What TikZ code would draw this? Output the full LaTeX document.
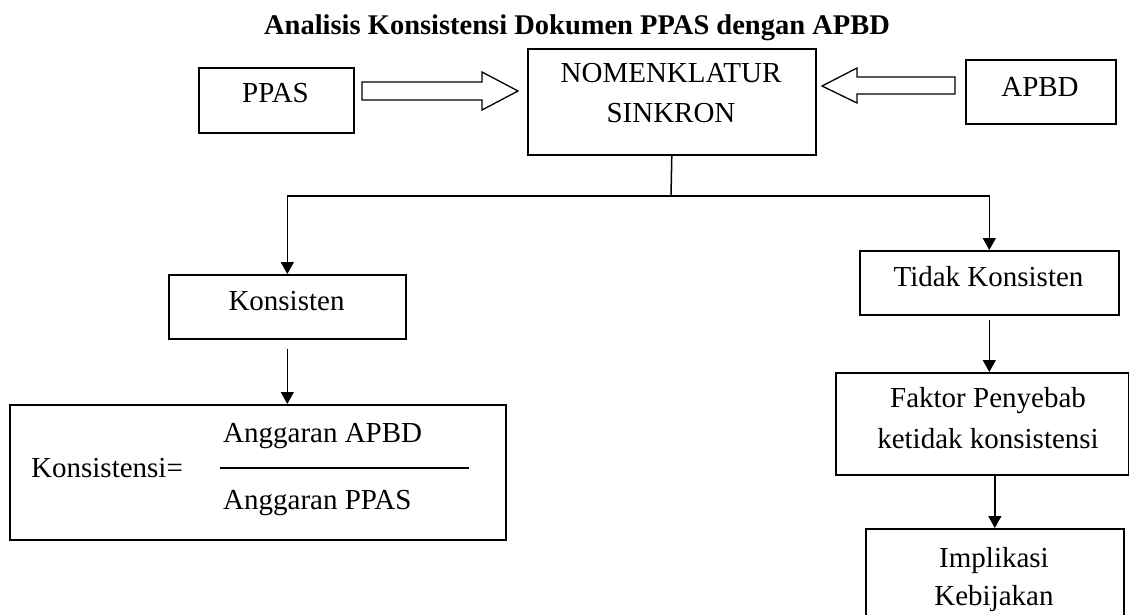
\documentclass[tikz,border=0pt]{standalone}
\usepackage{fontspec}
\setmainfont{Liberation Serif}
\usetikzlibrary{arrows.meta}
\begin{document}
\begin{tikzpicture}[x=1pt,y=-1pt,
  box/.style={draw, line width=1.6pt, inner sep=0pt, anchor=north west},
  txt/.style={anchor=base, inner sep=0pt, font=\fontsize{29}{34}\selectfont},
  conn/.style={line width=1.5pt},
  arr/.style={conn, -{Triangle[length=12pt,width=13pt]}},
  hollow/.style={draw, line width=1.3pt, fill=white, line join=miter}]
\useasboundingbox (0,0) rectangle (1129,615);
\fill[white] (0,0) rectangle (1129,615);

% title
\node[txt, font=\fontsize{28.5}{34}\selectfont\bfseries] (title) at (577,35) {Analisis Konsistensi Dokumen PPAS dengan APBD};

% top row boxes
\node[box, minimum width=155pt, minimum height=65pt] (ppas) at (198,67) {};
\node[txt] (tppas) at (275.5,103) {PPAS};
\node[box, minimum width=288pt, minimum height=106pt] (nomen) at (527,48) {};
\node[txt] (tnomen1) at (671,83) {NOMENKLATUR};
\node[txt] (tnomen2) at (671,123) {SINKRON};
\node[box, minimum width=150pt, minimum height=64pt] (apbd) at (965,59) {};
\node[txt] (tapbd) at (1040,97) {APBD};

% hollow block arrows
\draw[hollow] (362,82) -- (482,82) -- (482,72) -- (518,91) -- (482,110) -- (482,100) -- (362,100) -- cycle;
\draw[hollow] (955,77) -- (857,77) -- (857,68) -- (822,86) -- (857,103) -- (857,94) -- (955,94) -- cycle;

% second row
\node[box, minimum width=237pt, minimum height=64pt] (kons) at (168,274) {};
\node[txt] (tkons) at (286.5,310) {Konsisten};
\node[box, minimum width=259pt, minimum height=64pt] (tidak) at (859,250) {};
\node[txt] (ttidak) at (988.5,286) {Tidak Konsisten};

% formula box
\node[box, minimum width=496pt, minimum height=135pt] (big) at (9,404) {};
\node[txt, anchor=base west] (tk) at (31,477) {Konsistensi=};
\node[txt, anchor=base west] (tnum) at (223,442) {Anggaran APBD};
\node[txt, anchor=base west] (tden) at (223,509) {Anggaran PPAS};
\draw[conn, line width=1.3pt] (220,468) -- (469,468);

% right column
\node[box, minimum width=293pt, minimum height=102pt] (faktor) at (835,372) {};
\node[txt] (tfak1) at (988,407) {Faktor Penyebab};
\node[txt] (tfak2) at (988,448) {ketidak konsistensi};
\node[box, minimum width=258pt, minimum height=130pt] (impl) at (865,528) {};
\node[txt] (timp1) at (994,567) {Implikasi};
\node[txt] (timp2) at (994,605) {Kebijakan};

% connectors
\coordinate (hub) at (671,196);
\draw[conn] (nomen.south) -- (hub);
\draw[arr] (hub) -| (kons.north);
\draw[arr] (hub) -| (tidak.north);
\draw[arr] ([yshift=-9pt]kons.south) -- (kons.south |- big.north);
\draw[arr] ([yshift=-4pt]tidak.south) -- (tidak.south |- faktor.north);
\draw[arr] (faktor.south -| impl.north) -- (impl.north);
\end{tikzpicture}
\end{document}
